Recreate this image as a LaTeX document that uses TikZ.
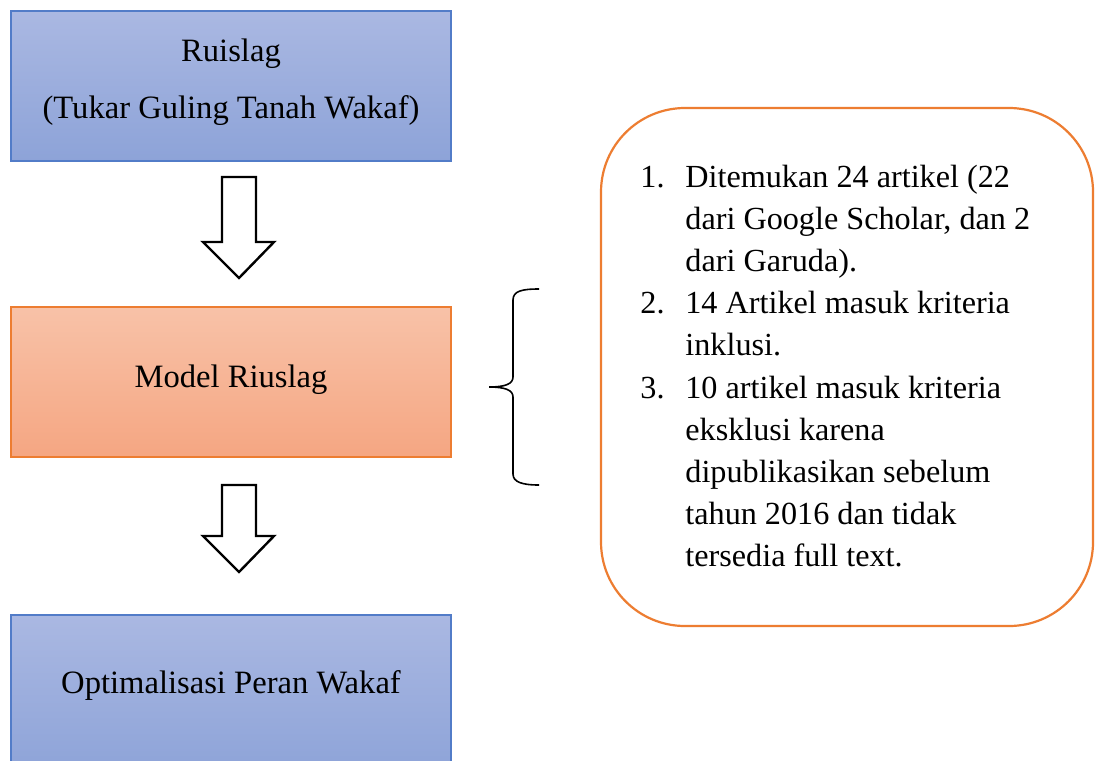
\documentclass[tikz,border=0pt]{standalone}
\usepackage{fontspec}
\setmainfont{Liberation Serif}
\definecolor{bluetop}{RGB}{170,184,226}
\definecolor{bluebot}{RGB}{141,163,216}
\definecolor{blueline}{RGB}{82,124,200}
\definecolor{orgtop}{RGB}{248,194,168}
\definecolor{orgbot}{RGB}{245,166,130}
\definecolor{orgline}{RGB}{237,125,49}
\tikzset{
  bluebox/.style={rectangle, draw=blueline, line width=0.6pt, top color=bluetop, bottom color=bluebot, minimum width=220pt, minimum height=75pt, inner sep=0pt},
  orgbox/.style={rectangle, draw=orgline, line width=0.6pt, top color=orgtop, bottom color=orgbot, minimum width=220pt, minimum height=75pt, inner sep=0pt},
  lbl/.style={inner sep=0pt, font=\fontsize{16.3}{21.1}\selectfont},
  listlbl/.style={inner sep=0pt, font=\fontsize{16.1}{21.1}\selectfont},
  blockarrow/.style={draw=black, line width=1.2pt, fill=white, line join=miter},
  bracestyle/.style={draw=black, line width=0.8pt},
  roundbox/.style={draw=orgline, line width=1.1pt, rounded corners=42pt}
}
\begin{document}
\begin{tikzpicture}[x=0.5pt, y=-0.5pt]
\clip (0,0) rectangle (1095,760);
\fill[white] (0,0) rectangle (1095,760);
% boxes
\node[bluebox] (box1) at (231,86) {};
\node[orgbox] (box2) at (231,382) {};
\node[bluebox, minimum height=80pt] (box3) at (231,695) {};
% labels
\node[lbl, anchor=base] (t1a) at (231,61) {Ruislag};
\node[lbl, anchor=base] (t1b) at (231,118) {(Tukar Guling Tanah Wakaf)};
\node[lbl, anchor=base] (t2) at (231,387) {Model Riuslag};
\node[lbl, anchor=base] (t3) at (231,693) {Optimalisasi Peran Wakaf};
% block arrows
\draw[blockarrow] (222,177) -- (256,177) -- (256,242) -- (274,242) -- (239,278) -- (203,242) -- (222,242) -- cycle;
\draw[blockarrow] (222,485) -- (256,485) -- (256,536) -- (274,536) -- (239,572) -- (203,536) -- (222,536) -- cycle;
% brace
\coordinate (btop) at (539,289);
\coordinate (btip) at (489,387);
\coordinate (bbot) at (539,485);
\draw[bracestyle] (btop) .. controls (522,289) and (513,291) .. (513,300) -- (513,377) .. controls (513,384) and (505,387) .. (btip) .. controls (505,387) and (513,390) .. (513,397) -- (513,474) .. controls (513,482) and (522,485) .. (bbot);
% rounded box
\draw[roundbox] (601,108) rectangle (1093,626);
\node[listlbl, anchor=base west] (list) at (640,187) {%
\begin{tabular}[t]{@{}p{22.5pt}@{}l@{}}
1. & Ditemukan 24 artikel (22\\
   & dari Google Scholar, dan 2\\
   & dari Garuda).\\
2. & 14 Artikel masuk kriteria\\
   & inklusi.\\
3. & 10 artikel masuk kriteria\\
   & eksklusi karena\\
   & dipublikasikan sebelum\\
   & tahun 2016 dan tidak\\
   & tersedia full text.
\end{tabular}};
\end{tikzpicture}
\end{document}
